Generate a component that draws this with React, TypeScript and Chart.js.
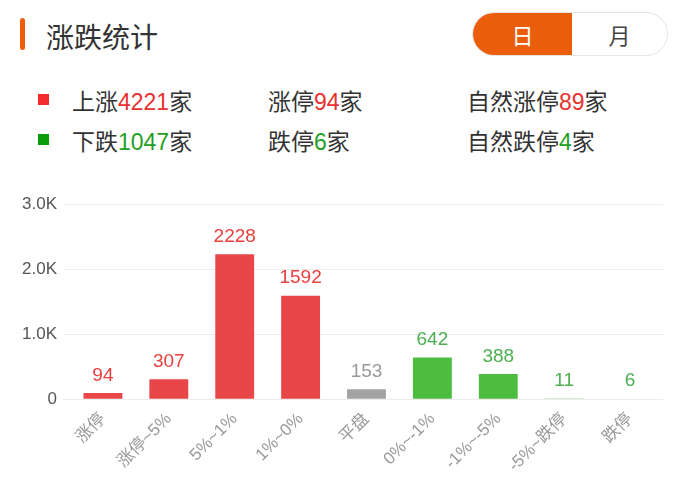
import React, { useEffect, useRef } from 'react';
import { Chart, registerables } from 'chart.js';

Chart.register(...registerables);

// bar categories and counts
const categories = ['涨停', '涨停~5%', '5%~1%', '1%~0%', '平盘', '0%~-1%', '-1%~-5%', '-5%~跌停', '跌停'];
const counts = [94, 307, 2228, 1592, 153, 642, 388, 11, 6];
const barColors = ['#e84648', '#e84648', '#e84648', '#e84648', '#a3a3a3', '#4dbd3f', '#4dbd3f', '#4dbd3f', '#4dbd3f'];
const valueColors = ['#e8403e', '#e8403e', '#e8403e', '#e8403e', '#999999', '#4caf50', '#4caf50', '#4caf50', '#4caf50'];
const yTicks = [0, 1000, 2000, 3000];

// summary rows
const upSummary = [
  { label: '上涨', value: '4221' },
  { label: '涨停', value: '94' },
  { label: '自然涨停', value: '89' },
];
const downSummary = [
  { label: '下跌', value: '1047' },
  { label: '跌停', value: '6' },
  { label: '自然跌停', value: '4' },
];

const FONT = '"Liberation Sans", Arial, "Noto Sans CJK SC", sans-serif';

const valueLabels = {
  id: 'valueLabels',
  afterDatasetsDraw(chart: Chart) {
    const ctx = chart.ctx;
    const meta = chart.getDatasetMeta(0);
    ctx.save();
    ctx.font = `19px ${FONT}`;
    ctx.textAlign = 'center';
    ctx.textBaseline = 'bottom';
    meta.data.forEach((bar: any, i: number) => {
      ctx.fillStyle = valueColors[i];
      ctx.fillText(String(counts[i]), bar.x, bar.y - 8);
    });
    ctx.restore();
  },
};

function Summary({ rows, color, square }: { rows: { label: string; value: string }[]; color: string; square: string }) {
  const lefts = [72, 268, 467];
  return (
    <div style={{ position: 'relative', height: 40 }}>
      <div style={{ position: 'absolute', left: 38, top: 14, width: 11, height: 11, background: square }} />
      {rows.map((r, i) => (
        <div key={i} style={{ position: 'absolute', left: lefts[i], top: 3, fontSize: 23, color: '#333', whiteSpace: 'nowrap' }}>
          {r.label}
          <span style={{ color }}>{r.value}</span>家
        </div>
      ))}
    </div>
  );
}

export default function App() {
  const chartRef = useRef<HTMLCanvasElement>(null);
  const chartInstance = useRef<Chart | null>(null);

  useEffect(() => {
    if (!chartRef.current) return;
    const ctx = chartRef.current.getContext('2d');
    if (!ctx) return;
    if (chartInstance.current) chartInstance.current.destroy();

    chartInstance.current = new Chart(ctx, {
      type: 'bar',
      data: {
        labels: categories,
        datasets: [
          {
            data: counts,
            backgroundColor: barColors,
            barPercentage: 0.59,
            categoryPercentage: 1,
          },
        ],
      },
      options: {
        animation: false,
        responsive: true,
        maintainAspectRatio: false,
        layout: { padding: { top: 14, right: 29, left: 16, bottom: 12 } },
        plugins: {
          legend: { display: false },
          tooltip: { enabled: false },
        },
        scales: {
          y: {
            min: 0,
            max: 3000,
            afterBuildTicks: (scale: any) => {
              scale.ticks = yTicks.map((v) => ({ value: v }));
            },
            border: { display: false },
            grid: { color: '#ececec', drawTicks: true, tickLength: 7 },
            ticks: {
              padding: 6,
              color: '#555',
              font: { size: 17, family: FONT },
              callback: (v: any) => (Number(v) === 0 ? '0' : (Number(v) / 1000).toFixed(1) + 'K'),
            },
          },
          x: {
            border: { display: false },
            grid: { display: false },
            ticks: {
              minRotation: 45,
              maxRotation: 45,
              padding: 2,
              color: '#999',
              font: { size: 17, family: FONT },
            },
          },
        },
      },
      plugins: [valueLabels],
    });

    return () => {
      if (chartInstance.current) chartInstance.current.destroy();
    };
  }, []);

  return (
    <div style={{ position: 'relative', width: 692, height: 500, margin: -8, background: '#fff', fontFamily: FONT, overflow: 'hidden' }}>
      <div style={{ position: 'absolute', left: 20, top: 18, width: 5, height: 32, borderRadius: 3, background: '#ee5d0b' }} />
      <div style={{ position: 'absolute', left: 46, top: 16, fontSize: 28, color: '#333' }}>涨跌统计</div>
      <div
        style={{
          position: 'absolute',
          left: 472,
          top: 12,
          width: 196,
          height: 44,
          borderRadius: 22,
          border: '1px solid #e6e6e6',
          boxSizing: 'border-box',
          overflow: 'hidden',
          display: 'flex',
          fontSize: 22,
        }}
      >
        <div style={{ width: 99, background: '#ea5e0b', color: '#fff', display: 'flex', alignItems: 'center', justifyContent: 'center' }}>日</div>
        <div style={{ flex: 1, color: '#444', display: 'flex', alignItems: 'center', justifyContent: 'center' }}>月</div>
      </div>
      <div style={{ position: 'absolute', left: 0, top: 80, width: 692 }}>
        <Summary rows={upSummary} color="#e8312f" square="#f42b2b" />
        <Summary rows={downSummary} color="#1f9f1f" square="#0a9e0a" />
      </div>
      <div style={{ position: 'absolute', left: 0, top: 188, width: 692, height: 302 }}>
        <canvas ref={chartRef}></canvas>
      </div>
    </div>
  );
}
